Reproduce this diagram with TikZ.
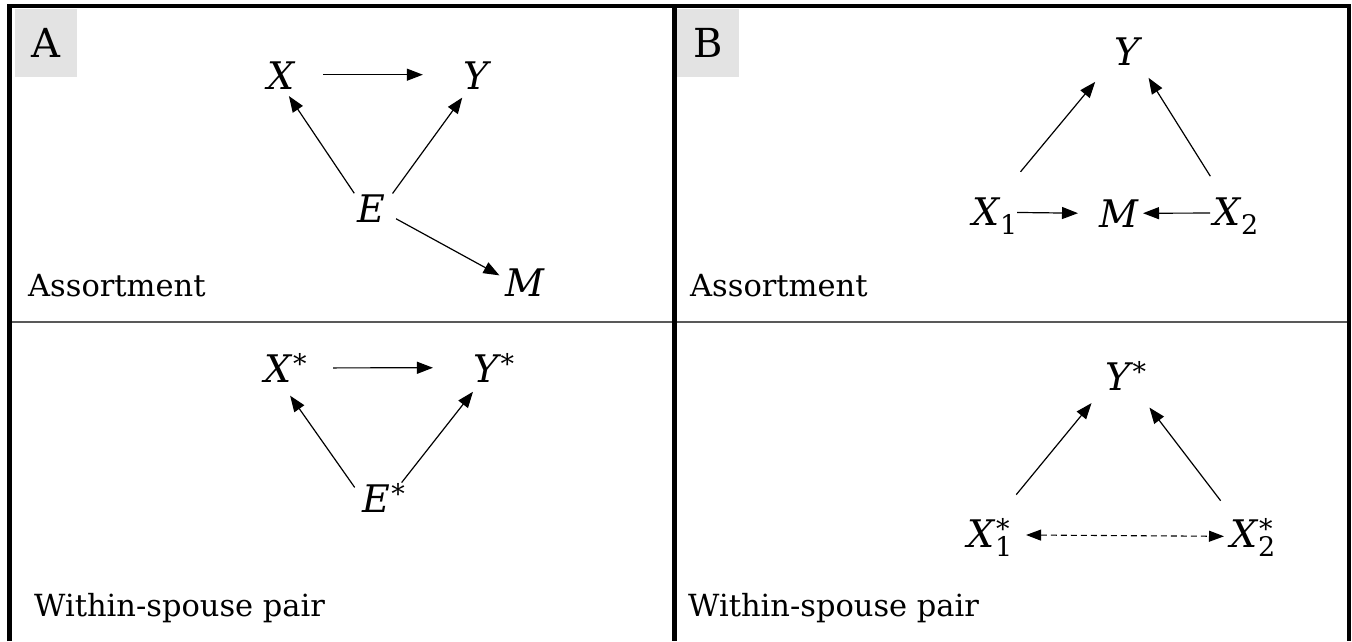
\documentclass[tikz,border=0pt]{standalone}
\usepackage{fontspec}
\setmainfont{DejaVu Serif}
\usetikzlibrary{arrows.meta}
\newcommand{\vsym}[3]{\makebox[0pt]{{\itshape #1}\rlap{\smash{\raisebox{-9pt}{\fontsize{27}{27}\selectfont\kern0.5pt#2}}}\rlap{\smash{\raisebox{9pt}{\fontsize{27}{27}\selectfont\kern1.5pt#3}}}}}
\tikzset{
  var/.style={circle, inner sep=0pt, outer sep=0pt, minimum size=30pt, font=\fontsize{38}{38}\selectfont},
  arr/.style={-{Triangle[length=16pt,width=12pt]}, line width=1.2pt},
  darr/.style={{Triangle[length=15pt,width=11pt]}-{Triangle[length=15pt,width=11pt]}, line width=1.1pt, dash pattern=on 6pt off 4pt},
  lab/.style={anchor=base west, inner sep=0pt, font=\fontsize{30.5}{30.5}\selectfont},
  panelbox/.style={fill=black!11, minimum width=62pt, minimum height=68pt, inner sep=0pt, font=\fontsize{40}{40}\selectfont},
  frame/.style={line width=4.5pt, line join=miter},
}
\begin{document}
\begin{tikzpicture}[x=1pt,y=-1pt]
\useasboundingbox (0,0) rectangle (1352,641);
% panel letters
\node[panelbox] (pA) at (46,43) {A};
\node[panelbox] (pB) at (708,43) {B};
% frame
\draw[line width=1.5pt, black!65] (9.5,322) -- (1349,322);
\draw[frame] (9.5,641) -- (9.5,6) -- (1349,6) -- (1349,641);
\draw[line width=5pt] (674.5,6) -- (674.5,641);
% text labels
\node[lab] (tA1) at (28,296) {Assortment};
\node[lab] (tA2) at (34,616) {Within-spouse pair};
\node[lab] (tB1) at (690,296) {Assortment};
\node[lab] (tB2) at (688,616) {Within-spouse pair};
% Panel A top
\node[var] (X) at (281,76) {\vsym{X}{}{}};
\node[var] (Y) at (476,76) {\vsym{Y}{}{}};
\node[var] (E) at (371,208.5) {\vsym{E}{}{}};
\node[var] (M) at (525,282.5) {\vsym{M}{}{}};
\draw[arr, shorten <=27.2pt, shorten >=38.2pt] (X.5.4) -- (Y.175.7);
\draw[arr, shorten <=8pt, shorten >=6.8pt] (E.145.6) -- (X.-74);
\draw[arr, shorten <=12.5pt, shorten >=10.6pt] (E.19.1) -- (Y.-120.6);
\draw[arr, shorten <=12.2pt, shorten >=12.1pt] (E.-17.1) -- (M.175.8);
% Panel A bottom
\node[var] (Xs) at (278,369) {\vsym{X}{}{*}};
\node[var] (Ys) at (486.5,369) {\vsym{Y}{}{*}};
\node[var] (Es) at (376,499) {\vsym{E}{}{*}};
\draw[arr, shorten <=40.1pt, shorten >=38.6pt] (Xs.4.2) -- (Ys.175.7);
\draw[arr, shorten <=11.3pt, shorten >=14.8pt] (Es.171.3) -- (Xs.-76.4);
\draw[arr, shorten <=17.6pt, shorten >=11.6pt] (Es.10.6) -- (Ys.-115.6);
% Panel B top
\node[var] (Yb) at (1127.5,51.5) {\vsym{Y}{}{}};
\node[var] (X1) at (986,212) {\vsym{X}{1}{}};
\node[var] (Mb) at (1118.5,213.5) {\vsym{M}{}{}};
\node[var] (X2) at (1227,212) {\vsym{X}{2}{}};
\draw[arr, shorten <=38pt, shorten >=30pt] (X1.47.3) -- (Yb.-151.4);
\draw[arr, shorten <=25pt, shorten >=19pt] (X2.103) -- (Yb.-43.8);
\draw[arr, shorten <=16pt, shorten >=25.5pt] (X1.-1.8) -- (Mb.180.7);
\draw[arr, shorten <=2pt, shorten >=9.5pt] (X2.-176.6) -- (Mb.1.2);
% Panel B bottom
\node[var] (Ybs) at (1118.5,377) {\vsym{Y}{}{*}};
\node[var] (X1s) at (981,534) {\vsym{X}{1}{*}};
\node[var] (X2s) at (1244,534) {\vsym{X}{2}{*}};
\draw[arr, shorten <=38pt, shorten >=22.9pt] (X1s.42.7) -- (Ybs.-146.3);
\draw[arr, shorten <=25.8pt, shorten >=29.3pt] (X2s.121) -- (Ybs.-29.7);
\draw[darr, shorten <=30.1pt, shorten >=5.2pt] (X1s.-3.8) -- (X2s.-171.5);
\end{tikzpicture}
\end{document}
